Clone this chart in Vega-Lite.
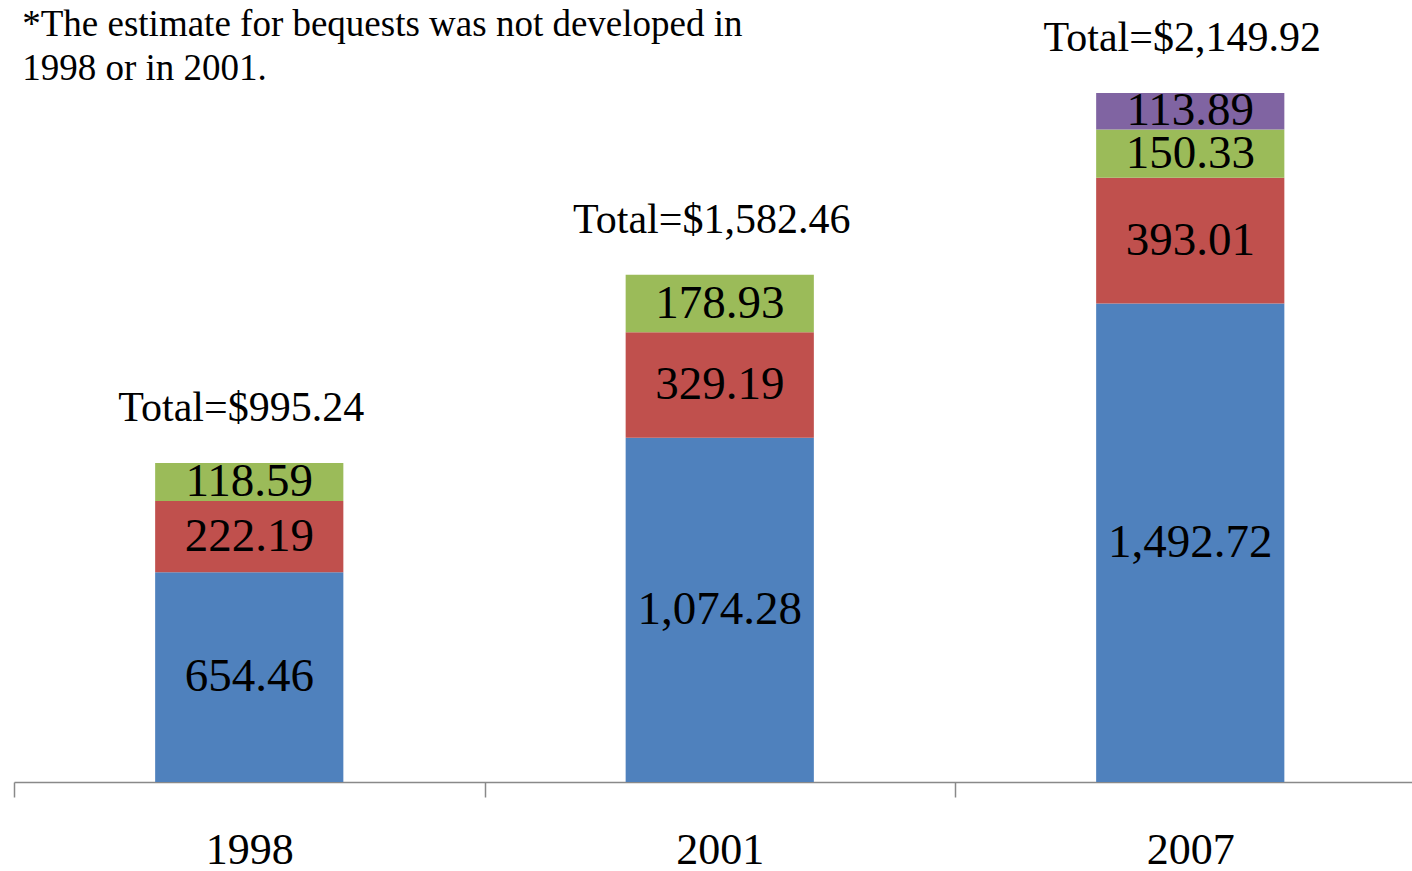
{
  "$schema": "https://vega.github.io/schema/vega-lite/v6.json",
  "width": 1398,
  "height": 782,
  "autosize": {"type": "none"},
  "padding": {"left": 14, "top": 0, "right": 0, "bottom": 89},
  "background": "white",
  "config": {"view": {"stroke": null}},
  "datasets": {
    "segments": [
      {"year": "1998", "component": "Series 1", "rank": 1, "value": 654.46},
      {"year": "1998", "component": "Series 2", "rank": 2, "value": 222.19},
      {"year": "1998", "component": "Series 3", "rank": 3, "value": 118.59},
      {"year": "2001", "component": "Series 1", "rank": 1, "value": 1074.28},
      {"year": "2001", "component": "Series 2", "rank": 2, "value": 329.19},
      {"year": "2001", "component": "Series 3", "rank": 3, "value": 178.93},
      {"year": "2007", "component": "Series 1", "rank": 1, "value": 1492.72},
      {"year": "2007", "component": "Series 2", "rank": 2, "value": 393.01},
      {"year": "2007", "component": "Series 3", "rank": 3, "value": 150.33},
      {"year": "2007", "component": "Bequests", "rank": 4, "value": 113.89}
    ],
    "totals": [
      {"year": "1998", "total": 995.24, "label": "Total=$995.24"},
      {"year": "2001", "total": 1582.46, "label": "Total=$1,582.46"},
      {"year": "2007", "total": 2149.92, "label": "Total=$2,149.92"}
    ],
    "note": [
      {"year": "1998", "top": 2440, "line1": "*The estimate for bequests was not developed in", "line2": "1998 or in 2001."}
    ]
  },
  "layer": [
    {
      "data": {"name": "segments"},
      "mark": {"type": "bar", "width": {"band": 0.4}},
      "encoding": {
        "x": {
          "field": "year",
          "type": "nominal",
          "scale": {"range": [0, 1411.5], "paddingInner": 0, "paddingOuter": 0},
          "axis": {
            "title": null,
            "labelAngle": 0,
            "labelFont": "Liberation Serif",
            "labelFontSize": 44,
            "labelColor": "black",
            "labelPadding": 31,
            "tickSize": 15,
            "tickBand": "extent",
            "domainColor": "#898989",
            "tickColor": "#898989",
            "domainWidth": 1.5,
            "tickWidth": 1.5
          }
        },
        "y": {
          "field": "value",
          "type": "quantitative",
          "stack": "zero",
          "scale": {"domain": [0, 2440], "nice": false},
          "axis": null
        },
        "color": {
          "field": "component",
          "type": "nominal",
          "scale": {
            "domain": ["Series 1", "Series 2", "Series 3", "Bequests"],
            "range": ["#4F81BD", "#C0504D", "#9BBB59", "#8064A2"]
          },
          "legend": null
        },
        "order": {"field": "rank", "type": "quantitative"}
      }
    },
    {
      "data": {"name": "segments"},
      "mark": {"type": "text", "font": "Liberation Serif", "fontSize": 47, "baseline": "middle", "align": "center", "color": "black"},
      "encoding": {
        "x": {"field": "year", "type": "nominal"},
        "y": {"field": "value", "type": "quantitative", "stack": "zero", "bandPosition": 0.5},
        "detail": {"field": "component"},
        "order": {"field": "rank", "type": "quantitative"},
        "text": {"field": "value", "type": "quantitative", "format": ",.2f"}
      }
    },
    {
      "data": {"name": "totals"},
      "mark": {"type": "text", "font": "Liberation Serif", "fontSize": 42, "baseline": "middle", "align": "center", "color": "black", "dy": -55, "dx": -8},
      "encoding": {
        "x": {"field": "year", "type": "nominal"},
        "y": {"field": "total", "type": "quantitative"},
        "text": {"field": "label", "type": "nominal"}
      }
    },
    {
      "data": {"name": "note"},
      "mark": {"type": "text", "font": "Liberation Serif", "fontSize": 37, "baseline": "middle", "align": "left", "color": "black", "dx": -227, "dy": 25},
      "encoding": {
        "x": {"field": "year", "type": "nominal"},
        "y": {"field": "top", "type": "quantitative"},
        "text": {"field": "line1", "type": "nominal"}
      }
    },
    {
      "data": {"name": "note"},
      "mark": {"type": "text", "font": "Liberation Serif", "fontSize": 37, "baseline": "middle", "align": "left", "color": "black", "dx": -227, "dy": 69},
      "encoding": {
        "x": {"field": "year", "type": "nominal"},
        "y": {"field": "top", "type": "quantitative"},
        "text": {"field": "line2", "type": "nominal"}
      }
    }
  ]
}
